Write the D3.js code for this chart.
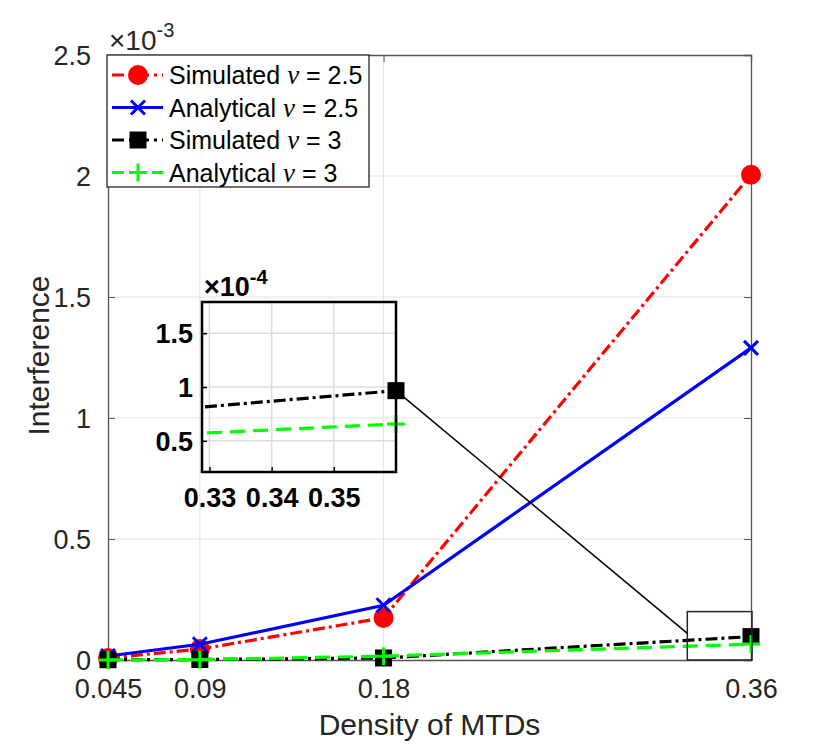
<!DOCTYPE html>
<html>
<head>
<meta charset="utf-8">
<script src="https://cdn.jsdelivr.net/npm/d3@7"></script>
<style>
  body { margin: 0; background: #fff; }
  text { font-family: "Liberation Sans", Arial, Helvetica, sans-serif; }
</style>
</head>
<body>
<div id="chart"></div>
<script>
// data (interference in units of 1e-3)
const densities = [0.045, 0.09, 0.18, 0.36];
const xTicks = [0.045, 0.09, 0.18, 0.36];
const yTicks = [0, 0.5, 1, 1.5, 2, 2.5];
const simNu25 = [0.008, 0.045, 0.174, 2.005];
const anaNu25 = [0.0165, 0.065, 0.226, 1.29];
const simNu3 = [0.001, 0.002, 0.0083, 0.0966];
const anaNu3 = [0.0005, 0.0015, 0.0159, 0.0657];
const legendNames = ["Simulated", "Analytical", "Simulated", "Analytical"];
const legendNu = ["2.5", "2.5", "3", "3"];
const insetXTicks = [0.33, 0.34, 0.35];
const insetYTicks = [0.5, 1, 1.5];

const W = 830, H = 744;
let margin = {top: 55, left: 108, right: 79, bottom: 84};
let width = W - margin.left - margin.right,
    height = H - margin.top - margin.bottom;

let svg = d3.select('#chart').append('svg')
  .attr('width', W).attr('height', H)
  .style('background', '#fff');

let x = d3.scaleLinear().domain([0.045, 0.36]).range([margin.left, margin.left + width]);
let y = d3.scaleLinear().domain([0, 2.5]).range([margin.top + height, margin.top]);

const axisCol = '#262626';

// grid
let grid = svg.append('g');
grid.selectAll('.gx').data([0.09, 0.18]).enter().append('line')
  .attr('x1', d => x(d)).attr('x2', d => x(d))
  .attr('y1', y(0)).attr('y2', y(2.5))
  .attr('stroke', '#e3e3e3').attr('stroke-width', 1);
grid.selectAll('.gy').data(yTicks.slice(1, -1)).enter().append('line')
  .attr('x1', x(0.045)).attr('x2', x(0.36))
  .attr('y1', d => y(d)).attr('y2', d => y(d))
  .attr('stroke', '#e3e3e3').attr('stroke-width', 1);

// axes
let xAxis = svg.append('g')
  .attr('transform', 'translate(0,' + y(0) + ')')
  .call(d3.axisBottom(x).tickValues(xTicks).tickSize(-7).tickPadding(19)
    .tickFormat(d => String(d)));
let xAxisTop = svg.append('g')
  .attr('transform', 'translate(0,' + y(2.5) + ')')
  .call(d3.axisTop(x).tickValues(xTicks).tickSize(-7).tickFormat(''));
let yAxis = svg.append('g')
  .attr('transform', 'translate(' + x(0.045) + ',0)')
  .call(d3.axisLeft(y).tickValues(yTicks).tickSize(-7).tickPadding(17)
    .tickFormat(d => String(d)));
let yAxisRight = svg.append('g')
  .attr('transform', 'translate(' + x(0.36) + ',0)')
  .call(d3.axisRight(y).tickValues(yTicks).tickSize(-7).tickFormat(''));
[xAxis, xAxisTop, yAxis, yAxisRight].forEach(g => {
  g.select('.domain').attr('stroke', '#555').attr('stroke-width', 1.3);
  g.selectAll('.tick line').attr('stroke', '#555').attr('stroke-width', 1);
  g.selectAll('.tick text').attr('fill', axisCol).style('font-size', '27px')
    .style('font-family', '"Liberation Sans", Arial, sans-serif');
});
yAxis.selectAll('.tick text').attr('dy', '0.34em');

// exponent label
let expo = svg.append('text').attr('x', 109).attr('y', 50)
  .attr('fill', axisCol).style('font-size', '28px');
expo.append('tspan').text('\u00d710');
expo.append('tspan').attr('dy', -13).style('font-size', '20px').text('-3');

// axis titles
svg.append('text').attr('x', x(0.045) + width / 2).attr('y', 735)
  .attr('text-anchor', 'middle').attr('fill', axisCol).style('font-size', '30px')
  .text('Density of MTDs');
svg.append('text').attr('transform', 'translate(49,' + (y(1.25) - 2) + ') rotate(-90)')
  .attr('text-anchor', 'middle').attr('fill', axisCol).style('font-size', '30px')
  .text('Interference');

// series definitions
const series = [
  {vals: simNu25, color: '#ff0000', dash: '12,4,3,4', marker: 'circle'},
  {vals: anaNu25, color: '#0000ff', dash: null, marker: 'x'},
  {vals: simNu3, color: '#000000', dash: '12,4,3,4', marker: 'square'},
  {vals: anaNu3, color: '#00ff00', dash: '15,8', marker: 'plus'}
];

function drawMarker(g, type, cx, cy, color) {
  if (type === 'circle') {
    g.append('circle').attr('cx', cx).attr('cy', cy).attr('r', 10).attr('fill', color);
  } else if (type === 'square') {
    g.append('rect').attr('x', cx - 8.5).attr('y', cy - 8.5)
      .attr('width', 17).attr('height', 17).attr('fill', color);
  } else if (type === 'x') {
    let s = 7;
    g.append('path').attr('d', `M${cx-s},${cy-s}L${cx+s},${cy+s}M${cx-s},${cy+s}L${cx+s},${cy-s}`)
      .attr('stroke', color).attr('stroke-width', 3).attr('fill', 'none');
  } else if (type === 'plus') {
    let s = 9;
    g.append('path').attr('d', `M${cx-s},${cy}L${cx+s},${cy}M${cx},${cy-s}L${cx},${cy+s}`)
      .attr('stroke', color).attr('stroke-width', 3).attr('fill', 'none');
  }
}

// main lines
let plot = svg.append('g');
series.forEach(s => {
  let pts = densities.map((d, i) => [d, s.vals[i]]);
  plot.append('path').datum(pts)
    .attr('d', d3.line().x(d => x(d[0])).y(d => y(d[1])))
    .attr('fill', 'none').attr('stroke', s.color).attr('stroke-width', 3.2)
    .attr('stroke-dasharray', s.dash);
  let mg = plot.append('g');
  pts.forEach(p => drawMarker(mg, s.marker, x(p[0]), y(p[1]), s.color));
});

// zoom rectangle in main axes
const zoomBox = {x0: 0.3288, x1: 0.3605, y0: 0, y1: 0.2};
svg.append('rect')
  .attr('x', x(zoomBox.x0)).attr('y', y(zoomBox.y1))
  .attr('width', x(zoomBox.x1) - x(zoomBox.x0)).attr('height', y(zoomBox.y0) - y(zoomBox.y1))
  .attr('fill', 'none').attr('stroke', axisCol).attr('stroke-width', 1.5);

// inset axes (values in units of 1e-4)
let ix = d3.scaleLinear().domain([0.3288, 0.36]).range([202, 396]);
let iy = d3.scaleLinear().domain([0.21, 1.79]).range([472, 302]);
let inset = svg.append('g');
inset.append('defs').append('clipPath').attr('id', 'iclip')
  .append('rect').attr('x', 202).attr('y', 302).attr('width', 194).attr('height', 170);
inset.selectAll('.igx').data(insetXTicks).enter().append('line')
  .attr('x1', d => ix(d)).attr('x2', d => ix(d)).attr('y1', 302).attr('y2', 472)
  .attr('stroke', '#dcdcdc').attr('stroke-width', 1.5);
inset.selectAll('.igy').data(insetYTicks).enter().append('line')
  .attr('x1', 202).attr('x2', 396).attr('y1', d => iy(d)).attr('y2', d => iy(d))
  .attr('stroke', '#dcdcdc').attr('stroke-width', 1.5);

series.slice(2).forEach(s => {
  let pts = densities.map((d, i) => [d, s.vals[i] * 10]);
  inset.append('path').datum(pts)
    .attr('clip-path', 'url(#iclip)')
    .attr('d', d3.line().x(d => ix(d[0])).y(d => iy(d[1])))
    .attr('fill', 'none').attr('stroke', s.color).attr('stroke-width', 3.2)
    .attr('stroke-dasharray', s.dash);
  let last = pts[pts.length - 1];
  drawMarker(inset, s.marker, ix(last[0]), iy(last[1]), s.color);
});

let ixAxis = inset.append('g').attr('transform', 'translate(0,472)')
  .call(d3.axisBottom(ix).tickValues(insetXTicks).tickSize(-5).tickPadding(16)
    .tickFormat(d3.format('.2f')));
let iyAxis = inset.append('g').attr('transform', 'translate(202,0)')
  .call(d3.axisLeft(iy).tickValues(insetYTicks).tickSize(-5).tickPadding(9)
    .tickFormat(d => String(d)));
[ixAxis, iyAxis].forEach(g => {
  g.select('.domain').remove();
  g.selectAll('.tick line').attr('stroke', '#000').attr('stroke-width', 1.5);
  g.selectAll('.tick text').attr('fill', '#000').style('font-size', '27px')
    .style('font-weight', 'bold').style('font-family', '"Liberation Sans", Arial, sans-serif');
});
iyAxis.selectAll('.tick text').attr('dy', '0.36em');
inset.append('rect').attr('x', 202).attr('y', 302).attr('width', 194).attr('height', 170)
  .attr('fill', 'none').attr('stroke', '#000').attr('stroke-width', 2.5);
let iexpo = inset.append('text').attr('x', 204).attr('y', 296)
  .attr('fill', '#000').style('font-size', '27px').style('font-weight', 'bold');
iexpo.append('tspan').text('\u00d710');
iexpo.append('tspan').attr('dy', -12).style('font-size', '20px').text('-4');

// connector from inset to zoom box
svg.append('line')
  .attr('x1', ix(densities[3])).attr('y1', iy(simNu3[3] * 10))
  .attr('x2', x(zoomBox.x0)).attr('y2', y(0.11))
  .attr('stroke', '#000').attr('stroke-width', 1.5);

// legend
let lg = svg.append('g').attr('transform', 'translate(107,55)');
lg.append('rect').attr('width', 262).attr('height', 132)
  .attr('fill', '#fff').attr('stroke', axisCol).attr('stroke-width', 1.3);
series.forEach((s, i) => {
  let cy = 20 + i * 32.5;
  lg.append('line').attr('x1', 5).attr('x2', 56).attr('y1', cy).attr('y2', cy)
    .attr('stroke', s.color).attr('stroke-width', 3)
    .attr('stroke-dasharray', s.dash ? (s.marker === 'plus' ? '12,8' : '12,5,3,5') : null);
  drawMarker(lg, s.marker, 31, cy, s.color);
  let t = lg.append('text').attr('x', 62).attr('y', cy).attr('dy', '0.36em')
    .attr('fill', '#000').style('font-size', '25px');
  t.append('tspan').text(legendNames[i] + ' ');
  t.append('tspan').style('font-family', '"Liberation Serif", "DejaVu Serif", serif')
    .style('font-style', 'italic').style('font-size', '27px').text('\u03bd');
  t.append('tspan').text(' = ' + legendNu[i]);
});
</script>
</body>
</html>
